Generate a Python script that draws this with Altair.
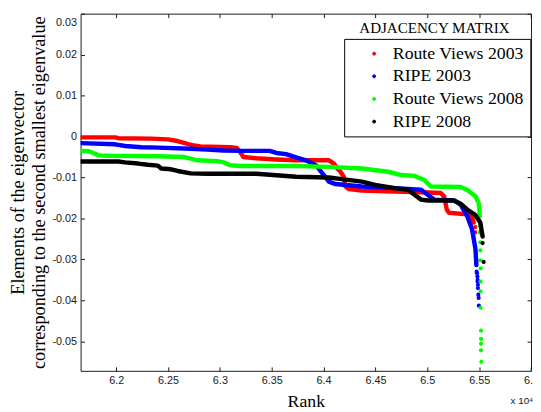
import altair as alt
import pandas as pd

# ---------------- data ----------------
series_names = ["Route Views 2003", "RIPE 2003", "Route Views 2008", "RIPE 2008"]
series_colors = ["#ff0000", "#0000ff", "#00ff00", "#000000"]

rv03_rank = [61658, 61990, 62022, 62339, 62498, 62593, 62688, 62752, 62814, 63100, 63164,
             63195, 63227, 63354, 63544, 63735, 64051, 64099, 64131, 64163, 64194, 64210,
             64242, 64369, 64686, 64940, 65130, 65162, 65188, 65209, 65384, 65431, 65447]
rv03_val = [-0.0002, -0.0002, -0.0004, -0.0005, -0.0007, -0.0011, -0.0018, -0.0022, -0.0024,
            -0.0026, -0.0028, -0.0038, -0.0050, -0.0053, -0.0056, -0.0058, -0.0058, -0.0066,
            -0.0078, -0.0086, -0.0098, -0.0122, -0.0128, -0.0132, -0.0134, -0.0136, -0.0138,
            -0.0146, -0.0178, -0.0186, -0.0190, -0.0198, -0.0210]
rv03_tail_rank = [65463, 65463]
rv03_tail_val = [-0.0221, -0.0234]

ripe03_rank = [61658, 61990, 62086, 62244, 62402, 62719, 62878, 63037, 63227, 63481, 63544,
               63639, 63735, 63830, 63925, 63989, 64051, 64115, 64369, 64686, 64940, 65003,
               65067, 65257, 65321, 65384, 65431, 65464, 65473]
ripe03_val = [-0.0016, -0.0019, -0.0023, -0.0026, -0.0027, -0.0030, -0.0032, -0.0034, -0.0035,
              -0.0035, -0.0040, -0.0043, -0.0051, -0.0058, -0.0070, -0.0090, -0.0110, -0.0116,
              -0.0122, -0.0126, -0.0130, -0.0142, -0.0154, -0.0156, -0.0166, -0.0194, -0.0226,
              -0.0274, -0.0314]
ripe03_tail_rank = [65476, 65479, 65483, 65485, 65485, 65488, 65488, 65492, 65495, 65497]
ripe03_tail_val = [-0.0330, -0.0334, -0.0342, -0.0350, -0.0354, -0.0362, -0.0370, -0.0386,
                   -0.0394, -0.0413]

rv08_rank = [61658, 61736, 61768, 61832, 61927, 62402, 62657, 62719, 62783, 62973, 63037,
             63100, 63195, 63735, 64051, 64369, 64622, 64750, 64876, 64971, 65035, 65321,
             65384, 65464, 65495, 65502, 65505]
rv08_val = [-0.0035, -0.0036, -0.0039, -0.0046, -0.0047, -0.0048, -0.0050, -0.0054, -0.0058,
            -0.0060, -0.0063, -0.0070, -0.0072, -0.0072, -0.0074, -0.0078, -0.0086, -0.0094,
            -0.0096, -0.0106, -0.0122, -0.0123, -0.0130, -0.0146, -0.0162, -0.0178, -0.0190]
rv08_tail_rank = [65505, 65508, 65508, 65511, 65511, 65511, 65514, 65514, 65514, 65514,
                  65518, 65518, 65518, 65518, 65521]
rv08_tail_val = [-0.0195, -0.0218, -0.0234, -0.0258, -0.0278, -0.0302, -0.0322, -0.0354,
                 -0.0378, -0.0418, -0.0474, -0.0494, -0.0506, -0.0522, -0.0550]

ripe08_rank = [61658, 62022, 62086, 62212, 62307, 62402, 62434, 62529, 62593, 62719, 62878,
               63354, 63513, 63735, 64051, 64179, 64369, 64496, 64686, 64813, 64876, 64940,
               65003, 65257, 65321, 65384, 65464, 65511, 65526, 65533]
ripe08_val = [-0.0061, -0.0061, -0.0063, -0.0066, -0.0069, -0.0071, -0.0078, -0.0080, -0.0084,
              -0.0090, -0.0091, -0.0091, -0.0094, -0.0098, -0.0100, -0.0104, -0.0110, -0.0118,
              -0.0126, -0.0130, -0.0142, -0.0154, -0.0156, -0.0156, -0.0164, -0.0178, -0.0192,
              -0.0210, -0.0234, -0.0244]
ripe08_tail_rank = [65533, 65543]
ripe08_tail_val = [-0.0260, -0.0306]

x_tick_values = [62000, 62500, 63000, 63500, 64000, 64500, 65000, 65500, 66000]
y_tick_values = [-0.05, -0.04, -0.03, -0.02, -0.01, 0, 0.01, 0.02, 0.03]

# ---------------- tables ----------------
def table(name, ranks, vals):
    return pd.DataFrame({"series": name, "rank": ranks, "val": vals, "idx": range(len(ranks))})

lines_df = pd.concat([
    table(series_names[0], rv03_rank, rv03_val),
    table(series_names[1], ripe03_rank, ripe03_val),
    table(series_names[2], rv08_rank, rv08_val),
    table(series_names[3], ripe08_rank, ripe08_val),
], ignore_index=True)

dots03_df = pd.concat([
    table(series_names[0], rv03_tail_rank, rv03_tail_val),
    table(series_names[1], ripe03_tail_rank, ripe03_tail_val),
], ignore_index=True)
dots08_df = pd.concat([
    table(series_names[2], rv08_tail_rank, rv08_tail_val),
    table(series_names[3], ripe08_tail_rank, ripe08_tail_val),
], ignore_index=True)

# ---------------- styling ----------------
W, H = 457.3, 362.6
sans = "Liberation Sans"
serif = "Liberation Serif"
ink = "#1a1a1a"

xscale = alt.Scale(domain=[61657, 66000], nice=False, zero=False)
yscale = alt.Scale(domain=[-0.0572, 0.03], nice=False, zero=False)
cscale = alt.Scale(domain=series_names, range=series_colors)

x_label_expr = "format(datum.value / 10000, '~g')"
y_label_expr = "datum.value == 0 ? '0' : (datum.value < 0 ? '-' : '') + format(abs(datum.value), '.2f')"

x_main = alt.Axis(orient="bottom", values=x_tick_values, labelExpr=x_label_expr, ticks=False,
                  domain=False, grid=False, labelFont=sans, labelFontSize=11, labelColor=ink,
                  labelPadding=4, labelFlush=False, labelOverlap=False,
                  title="Rank", titleFont=serif, titleFontSize=18,
                  titleFontWeight="normal", titleColor="black", titleBaseline="alphabetic",
                  titleY=36)
y_main = alt.Axis(orient="left", values=y_tick_values, labelExpr=y_label_expr, ticks=False,
                  domain=False, grid=False, labelFont=sans, labelFontSize=11, labelColor=ink,
                  labelPadding=4, labelFlush=True, labelFlushOffset=-3, labelOverlap=False,
                  title=["Elements of the eigenvector",
                         "corresponding to the second smallest eigenvalue"],
                  titleFont=serif, titleFontSize=18.5, titleFontWeight="normal",
                  titleColor="black", titleAngle=270, titleAlign="center",
                  titleBaseline="alphabetic", titleLineHeight=21.5, titleX=-58, titleY=H / 2)

def tick_axis(orient, offset, vals, **kw):
    return alt.Axis(orient=orient, offset=offset, values=vals, labels=False, domain=False,
                    grid=False, ticks=True, tickSize=4, tickColor=ink, tickWidth=1, **kw)

x_ticks_bottom = tick_axis("top", -H, x_tick_values, title=None)
x_ticks_top = tick_axis("bottom", -H, x_tick_values, title="x 10\u2074", titleFont=sans,
                        titleFontSize=10, titleFontWeight="normal", titleColor=ink,
                        titleAlign="left", titleBaseline="alphabetic", titleX=436, titleY=396)
y_ticks_left = tick_axis("right", -W, y_tick_values, title=None)
# right-edge ticks; its title carries the legend heading placed above the legend box
y_ticks_right = tick_axis("left", -W, y_tick_values, title="ADJACENCY MATRIX", titleFont=serif,
                          titleFontSize=15.3, titleFontWeight="normal", titleColor="black",
                          titleAngle=0, titleAlign="center", titleBaseline="alphabetic",
                          titleX=-98.5, titleY=19.6)

legend = alt.Legend(orient="none", legendX=267.6, legendY=25.6, title=None,
                    strokeColor="black", fillColor="white", padding=6,
                    labelFont=serif, labelFontSize=18, labelColor="black",
                    symbolType="circle", symbolSize=9, symbolStrokeWidth=1,
                    symbolOffset=15.4, labelOffset=10, rowPadding=5)

lines = alt.Chart(lines_df).mark_line(strokeWidth=4.5, strokeCap="round", strokeJoin="round",
                                      clip=True).encode(
    x=alt.X("rank:Q", scale=xscale, axis=x_main),
    y=alt.Y("val:Q", scale=yscale, axis=y_main),
    color=alt.Color("series:N", scale=cscale, legend=legend),
    order="idx:Q",
)

dots03 = alt.Chart(dots03_df).mark_circle(size=18, opacity=1, clip=True).encode(
    x=alt.X("rank:Q", scale=xscale, axis=x_ticks_bottom),
    y=alt.Y("val:Q", scale=yscale, axis=y_ticks_left),
    color=alt.Color("series:N", scale=cscale, legend=legend),
)

dots08 = alt.Chart(dots08_df).mark_circle(size=18, opacity=1, clip=True).encode(
    x=alt.X("rank:Q", scale=xscale, axis=x_ticks_top),
    y=alt.Y("val:Q", scale=yscale, axis=y_ticks_right),
    color=alt.Color("series:N", scale=cscale, legend=legend),
)

chart = alt.layer(dots03, dots08, lines).resolve_axis(
    x="independent", y="independent"
).properties(
    width=W, height=H,
    autosize=alt.AutoSizeParams(type="none"),
    padding={"left": 73.7, "top": 2.7, "right": 2, "bottom": 36},
    background="white",
).configure_view(stroke=ink, strokeWidth=1)

chart.save("out.html", embed_options={"renderer": "svg", "actions": False})
